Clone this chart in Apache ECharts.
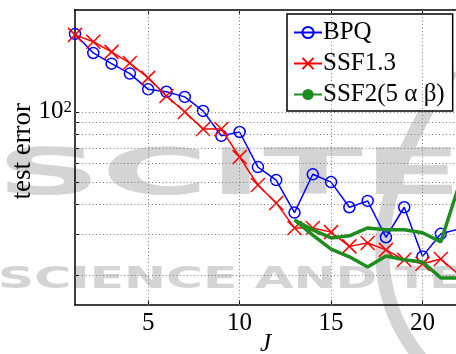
<!DOCTYPE html>
<html>
<head>
<meta charset="utf-8">
<script src="https://cdn.jsdelivr.net/npm/echarts@6/dist/echarts.min.js"></script>
<style>
    html, body { margin: 0; padding: 0; background: #fff; }
    #chart { width: 456px; height: 354px; }
</style>
</head>
<body>
<div id="chart"></div>
<script>
// values
var J = [1, 2, 3, 4, 5, 6, 7, 8, 9, 10, 11, 12, 13, 14, 15, 16, 17, 18, 19, 20, 21, 22];
var bpq = [216, 179, 161, 146, 125, 122, 116, 101, 79, 82, 58, 51, 37, 54, 50, 39, 41.5, 29, 39, 24, 30, 31.5];
var ssf13 = [214, 200, 181, 162, 140, 117, 100, 84.5, 84.5, 64, 48.6, 40.7, 31.8, 31.8, 30.5, 26.5, 27.4, 25.6, 23.2, 22.3, 23.4, 20];
var ssf2J = [13, 14, 15, 16, 17, 18, 19, 20, 21, 22];
var ssf2Upper = [34.4, 31.2, 28.8, 29.4, 31.8, 31.2, 31.2, 30.3, 27.7, 48.6];
var ssf2Lower = [34.4, 29.6, 25.8, 23.9, 21.6, 24.1, 23.2, 22.7, 19.4, 19.4];
var xTicks = [5, 10, 15, 20];
var yMinor = [20, 30, 40, 50, 60, 70, 80, 90];
var yMajor = [100];

var serif = '"Liberation Serif", "DejaVu Serif", serif';
var wm = '#d4d4d4';

function pairs(xs, ys) {
    var out = [];
    for (var i = 0; i < xs.length; i++) {
        out.push([xs[i], ys[i]]);
    }
    return out;
}

var chart = echarts.init(document.getElementById('chart'));

// dotted grid, drawn as mark lines so the log minor lines sit at 20..90
var gridMarks = [];
xTicks.forEach(function (v) { gridMarks.push({xAxis: v}); });
yMinor.concat(yMajor).forEach(function (v) { gridMarks.push({yAxis: v}); });

var option = {
    animation: false,
    backgroundColor: '#fff',
    textStyle: {fontFamily: serif, color: '#000'},
    graphic: [
        // watermark behind the plot
        {type: 'text', x: -4, y: 177, z: -10, scaleX: 1.42, scaleY: 0.63,
            style: {text: 'SCITE', fontSize: 103, fontWeight: 'bold', fontFamily: 'DejaVu Sans', fill: wm, verticalAlign: 'middle'}},
        {type: 'text', x: -2, y: 280, z: -10, scaleX: 1.62,
            style: {text: 'SCIENCE AND TEC', fontSize: 31, fontWeight: 'bold', fontFamily: 'DejaVu Sans', fill: wm, verticalAlign: 'middle'}},
        {type: 'bezierCurve', z: -10,
            shape: {x1: 452, y1: 70, cpx1: 330, cpy1: 250, x2: 422, y2: 360},
            style: {stroke: wm, lineWidth: 14, fill: null}}
    ],
    grid: {left: 75, right: 0, top: 9.5, bottom: 49, containLabel: false, outerBoundsMode: 'none'},
    legend: {
        data: ['BPQ', 'SSF1.3', 'SSF2(5 α β)'],
        orient: 'vertical',
        left: 287,
        top: 14,
        padding: [6, 8, 4, 6],
        itemGap: 6,
        itemWidth: 28,
        itemHeight: 14,
        backgroundColor: '#fff',
        borderColor: '#000',
        borderWidth: 1.5,
        borderRadius: 0,
        textStyle: {fontFamily: serif, fontSize: 25, lineHeight: 25, color: '#000', padding: [0, 0, 0, -4]}
    },
    xAxis: [
        {
            type: 'value',
            min: 1,
            max: 21.83,
            name: 'J',
            nameLocation: 'middle',
            nameGap: 27,
            nameMoveOverlap: false,
            nameTextStyle: {fontFamily: serif, fontSize: 25, fontStyle: 'italic', color: '#000'},
            axisLine: {lineStyle: {color: '#000', width: 1.5}},
            axisTick: {inside: true, length: 5, customValues: xTicks, lineStyle: {color: '#000'}},
            axisLabel: {customValues: xTicks, fontFamily: serif, fontSize: 25, color: '#000', margin: 6},
            splitLine: {show: false}
        },
        {
            type: 'value',
            position: 'top',
            min: 1,
            max: 21.83,
            axisLine: {lineStyle: {color: '#000', width: 1.5}},
            axisTick: {inside: true, length: 5, customValues: xTicks, lineStyle: {color: '#000'}},
            axisLabel: {show: false},
            splitLine: {show: false}
        }
    ],
    yAxis: {
        type: 'log',
        logBase: 10,
        min: 14.85,
        max: 275,
        name: 'test error',
        nameLocation: 'middle',
        nameGap: 39,
        nameMoveOverlap: false,
        nameTextStyle: {fontFamily: serif, fontSize: 27, color: '#000', padding: [0, 0, 0, 12]},
        axisLine: {lineStyle: {color: '#000', width: 1.5}},
        axisTick: {inside: true, length: 4, customValues: yMinor.concat(yMajor), lineStyle: {color: '#000'}},
        axisLabel: {
            customValues: yMajor,
            margin: 3,
            formatter: function () { return '{b|10}{s|2}'; },
            rich: {
                b: {fontFamily: serif, fontSize: 25, lineHeight: 25, padding: [6, 0, 0, 0], verticalAlign: 'bottom', color: '#000'},
                s: {fontFamily: serif, fontSize: 17, lineHeight: 17, verticalAlign: 'top', color: '#000'}
            }
        },
        splitLine: {show: false}
    },
    series: [
        {
            type: 'line',
            data: [],
            z: 1,
            markLine: {
                silent: true,
                symbol: ['none', 'none'],
                label: {show: false},
                lineStyle: {color: '#7a7a7a', type: [1, 2.5], width: 1},
                data: gridMarks
            }
        },
        {
            name: 'BPQ',
            type: 'line',
            data: pairs(J, bpq),
            symbol: 'circle',
            symbolSize: 11,
            itemStyle: {color: 'rgba(0,0,0,0)', borderColor: '#0000ff', borderWidth: 1.5},
            lineStyle: {color: '#0000ff', width: 1.5},
            z: 3
        },
        {
            name: 'SSF1.3',
            type: 'line',
            data: pairs(J, ssf13),
            symbol: 'path://M0,0L10,10M10,0L0,10',
            symbolSize: 14,
            itemStyle: {color: 'rgba(0,0,0,0)', borderColor: '#ff0000', borderWidth: 1.5},
            lineStyle: {color: '#ff0000', width: 1.5},
            z: 4
        },
        {
            name: 'SSF2(5 α β)',
            type: 'line',
            data: pairs(ssf2J, ssf2Upper),
            symbol: 'none',
            itemStyle: {color: '#1e8c1e'},
            lineStyle: {color: '#1e8c1e', width: 3.5},
            z: 5
        },
        {
            name: 'SSF2(5 α β)',
            type: 'line',
            data: pairs(ssf2J, ssf2Lower),
            symbol: 'none',
            itemStyle: {color: '#1e8c1e'},
            lineStyle: {color: '#1e8c1e', width: 3.5},
            z: 5
        }
    ]
};

chart.setOption(option);
</script>
</body>
</html>
